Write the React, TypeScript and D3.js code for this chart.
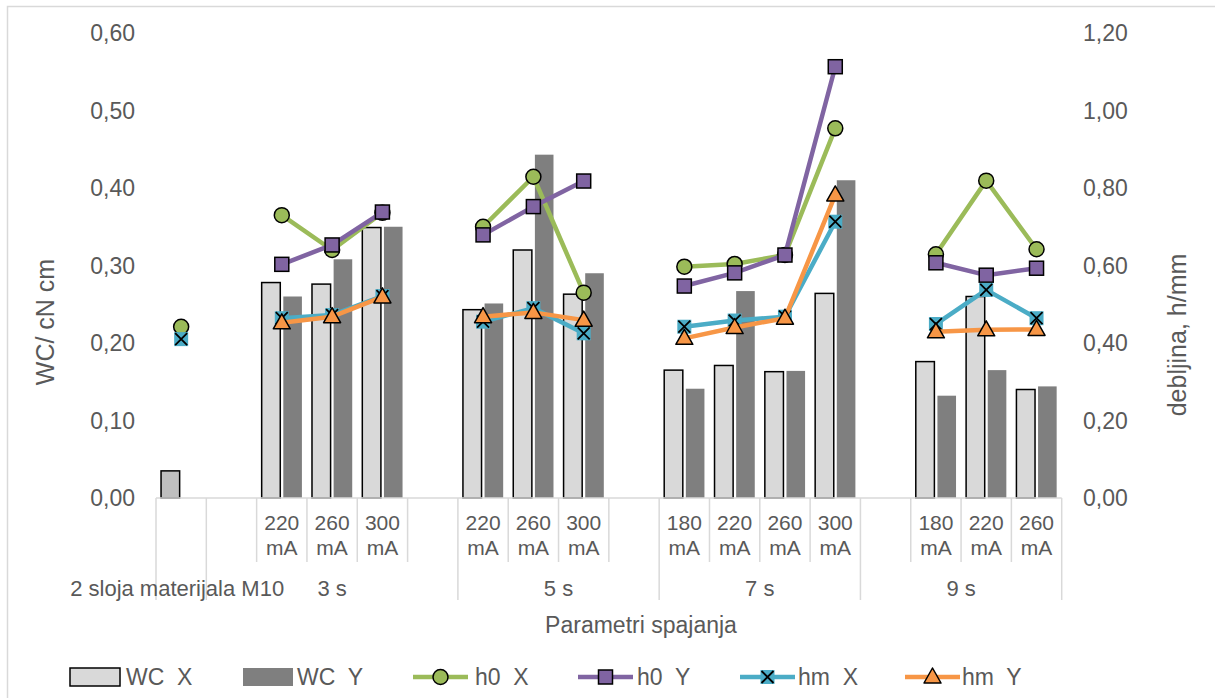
import React from "react";
import * as d3 from "d3";

const slotLabels: string[] = ["", "", "220 mA", "260 mA", "300 mA", "", "220 mA", "260 mA", "300 mA", "", "180 mA", "220 mA", "260 mA", "300 mA", "", "180 mA", "220 mA", "260 mA"];
const groupLabels: string[] = ["2 sloja materijala M10", "3 s", "5 s", "7 s", "9 s"];
const groupSizes: number[] = [1, 5, 4, 4, 4];

const wcX: (number | null)[] = [0.035, null, 0.278, 0.276, 0.349, null, 0.243, 0.320, 0.263, null, 0.165, 0.171, 0.163, 0.264, null, 0.176, 0.260, 0.140];
const wcY: (number | null)[] = [null, null, 0.260, 0.308, 0.350, null, 0.251, 0.443, 0.290, null, 0.141, 0.267, 0.164, 0.410, null, 0.132, 0.165, 0.144];
const h0X: (number | null)[] = [0.442, null, 0.730, 0.640, 0.736, null, 0.700, 0.829, 0.530, null, 0.597, 0.604, 0.627, 0.954, null, 0.629, 0.819, 0.642];
const h0Y: (number | null)[] = [null, null, 0.603, 0.653, 0.738, null, 0.679, 0.752, 0.818, null, 0.547, 0.581, 0.627, 1.113, null, 0.607, 0.575, 0.593];
const hmX: (number | null)[] = [0.410, null, 0.464, 0.472, 0.521, null, 0.455, 0.490, 0.425, null, 0.442, 0.458, 0.468, 0.713, null, 0.449, 0.537, 0.464];
const hmY: (number | null)[] = [null, null, 0.452, 0.468, 0.519, null, 0.468, 0.479, 0.459, null, 0.412, 0.440, 0.464, 0.782, null, 0.429, 0.434, 0.435];

const leftTicks: number[] = [0, 0.1, 0.2, 0.3, 0.4, 0.5, 0.6];
const rightTicks: number[] = [0, 0.2, 0.4, 0.6, 0.8, 1.0, 1.2];

const FONT = "'Liberation Sans', Arial, sans-serif";
const TXT = "#595959";
const GRID = "#d9d9d9";

const C_WCX = "#d9d9d9";
const C_WCX_FIRST = "#bfbfbf";
const C_WCY = "#7f7f7f";
const C_H0X = "#9bbb59";
const C_H0Y = "#8064a2";
const C_HMX = "#4bacc6";
const C_HMY = "#f79646";

type MarkerKind = "circle" | "square" | "x" | "triangle";

function Marker({ kind, color, x, y }: { kind: MarkerKind; color: string; x: number; y: number }) {
  if (kind === "circle") return <circle cx={x} cy={y} r={7.5} fill={color} stroke="#000" strokeWidth={1.5} />;
  if (kind === "square") return <rect x={x - 7} y={y - 7} width={14} height={14} fill={color} stroke="#000" strokeWidth={1.5} />;
  if (kind === "triangle")
    return <path d={`M${x},${y - 9}L${x + 8.5},${y + 6}L${x - 8.5},${y + 6}Z`} fill={color} stroke="#000" strokeWidth={1.5} strokeLinejoin="round" />;
  return (
    <g>
      <rect x={x - 7} y={y - 7} width={14} height={14} fill={color} />
      <path d={`M${x - 6},${y - 6}L${x + 6},${y + 6}M${x + 6},${y - 6}L${x - 6},${y + 6}`} stroke="#000" strokeWidth={1.8} />
    </g>
  );
}

export default function App() {
  const W = 1215, H = 698;
  const left = 156, right = 1061.7, top = 33, bottom = 498;
  const idx = slotLabels.map((_, i) => i);
  const x = d3.scaleBand<number>().domain(idx).range([left, right]).padding(0);
  const xs = d3.scaleBand<string>().domain(["X", "Y"]).range([0, x.bandwidth()]).paddingInner(0.14).paddingOuter(0.233);
  const yL = d3.scaleLinear().domain([0, 0.6]).range([bottom, top]);
  const yR = d3.scaleLinear().domain([0, 1.2]).range([bottom, top]);
  const cx = (i: number) => (x(i) as number) + x.bandwidth() / 2;

  const fmt = (v: number) => d3.format(".2f")(v).replace(".", ",");

  const lineGen = d3
    .line<number | null>()
    .defined((d) => d !== null)
    .x((_, i) => cx(i))
    .y((d) => yR(d as number));

  const series: { name: string; data: (number | null)[]; color: string; kind: MarkerKind }[] = [
    { name: "h0  X", data: h0X, color: C_H0X, kind: "circle" },
    { name: "h0  Y", data: h0Y, color: C_H0Y, kind: "square" },
    { name: "hm  X", data: hmX, color: C_HMX, kind: "x" },
    { name: "hm  Y", data: hmY, color: C_HMY, kind: "triangle" },
  ];

  const groupStarts: number[] = [];
  let acc = 0;
  groupSizes.forEach((s) => {
    groupStarts.push(acc);
    acc += s;
  });
  const step = x.step();

  const legendY = 677;
  const legendBars = [
    { name: "WC  X", fill: C_WCX, stroke: "#000", x0: 70, tx: 126 },
    { name: "WC  Y", fill: C_WCY, stroke: "none", x0: 243, tx: 297 },
  ];
  const legendLines = [
    { s: series[0], x0: 413, tx: 475 },
    { s: series[1], x0: 578, tx: 637 },
    { s: series[2], x0: 740, tx: 798 },
    { s: series[3], x0: 905, tx: 962 },
  ];

  return (
    <svg width={W} height={H} style={{ position: "absolute", left: 0, top: 0, background: "#fff" }} fontFamily={FONT}>
      <rect x={7.5} y={6.5} width={W + 20} height={H + 20} fill="#fff" stroke={GRID} strokeWidth={1.5} />

      {leftTicks.map((t) => (
        <text key={"l" + t} x={135} y={yL(t)} dy="0.35em" textAnchor="end" fontSize={23} fill={TXT}>
          {fmt(t)}
        </text>
      ))}
      {rightTicks.map((t) => (
        <text key={"r" + t} x={1083} y={yR(t)} dy="0.35em" textAnchor="start" fontSize={23} fill={TXT}>
          {fmt(t)}
        </text>
      ))}
      <text transform={`translate(45,${322}) rotate(-90)`} textAnchor="middle" dy="0.35em" fontSize={25} fill={TXT}>
        WC/ cN cm
      </text>
      <text transform={`translate(1177,${335}) rotate(-90)`} textAnchor="middle" dy="0.35em" fontSize={25} fill={TXT}>
        debljina, h/mm
      </text>

      {wcX.map((v, i) =>
        v === null ? null : (
          <rect key={"bx" + i} x={(x(i) as number) + (xs("X") as number)} y={yL(v)} width={xs.bandwidth()} height={bottom - yL(v)}
            fill={i === 0 ? C_WCX_FIRST : C_WCX} stroke="#000" strokeWidth={1.5} />
        )
      )}
      {wcY.map((v, i) =>
        v === null ? null : (
          <rect key={"by" + i} x={(x(i) as number) + (xs("Y") as number)} y={yL(v)} width={xs.bandwidth()} height={bottom - yL(v)} fill={C_WCY} />
        )
      )}

      <line x1={left} x2={right} y1={bottom} y2={bottom} stroke={GRID} strokeWidth={1.5} />
      {d3.range(slotLabels.length + 1).map((k) => {
        const isGroup = groupStarts.includes(k) || k === slotLabels.length;
        const xx = left + k * step;
        return <line key={"t" + k} x1={xx} x2={xx} y1={bottom} y2={isGroup ? 600 : 562} stroke={GRID} strokeWidth={1.5} />;
      })}
      {slotLabels.map((lab, i) => {
        if (!lab) return null;
        const [a, b] = lab.split(" ");
        return (
          <g key={"c" + i} fontSize={21} fill={TXT} textAnchor="middle">
            <text x={cx(i)} y={523} dy="0.35em">{a}</text>
            <text x={cx(i)} y={548} dy="0.35em">{b}</text>
          </g>
        );
      })}
      {groupLabels.map((g, gi) => {
        const start = groupStarts[gi];
        const mid = left + (start + groupSizes[gi] / 2) * step;
        return (
          <text key={"g" + gi} x={gi === 0 ? mid - 4 : mid} y={588} dy="0.35em" textAnchor="middle" fontSize={22} fill={TXT}>
            {g}
          </text>
        );
      })}
      <text x={641} y={625} dy="0.35em" textAnchor="middle" fontSize={23} fill={TXT}>
        Parametri spajanja
      </text>

      {series.map((s) => (
        <g key={s.name}>
          <path d={lineGen(s.data) || ""} fill="none" stroke={s.color} strokeWidth={4.5} strokeLinejoin="round" strokeLinecap="round" />
          {s.data.map((v, i) => (v === null ? null : <Marker key={i} kind={s.kind} color={s.color} x={cx(i)} y={yR(v)} />))}
        </g>
      ))}

      {legendBars.map((l) => (
        <g key={l.name}>
          <rect x={l.x0} y={legendY - 9} width={50} height={18} fill={l.fill} stroke={l.stroke} strokeWidth={1.5} />
          <text x={l.tx} y={legendY} dy="0.35em" fontSize={23} fill={TXT} style={{ whiteSpace: "pre" }}>
            {l.name}
          </text>
        </g>
      ))}
      {legendLines.map((l) => (
        <g key={l.s.name}>
          <line x1={l.x0} x2={l.x0 + 55} y1={legendY} y2={legendY} stroke={l.s.color} strokeWidth={4.5} />
          <Marker kind={l.s.kind} color={l.s.color} x={l.x0 + 27.5} y={legendY} />
          <text x={l.tx} y={legendY} dy="0.35em" fontSize={23} fill={TXT} style={{ whiteSpace: "pre" }}>
            {l.s.name}
          </text>
        </g>
      ))}
    </svg>
  );
}
